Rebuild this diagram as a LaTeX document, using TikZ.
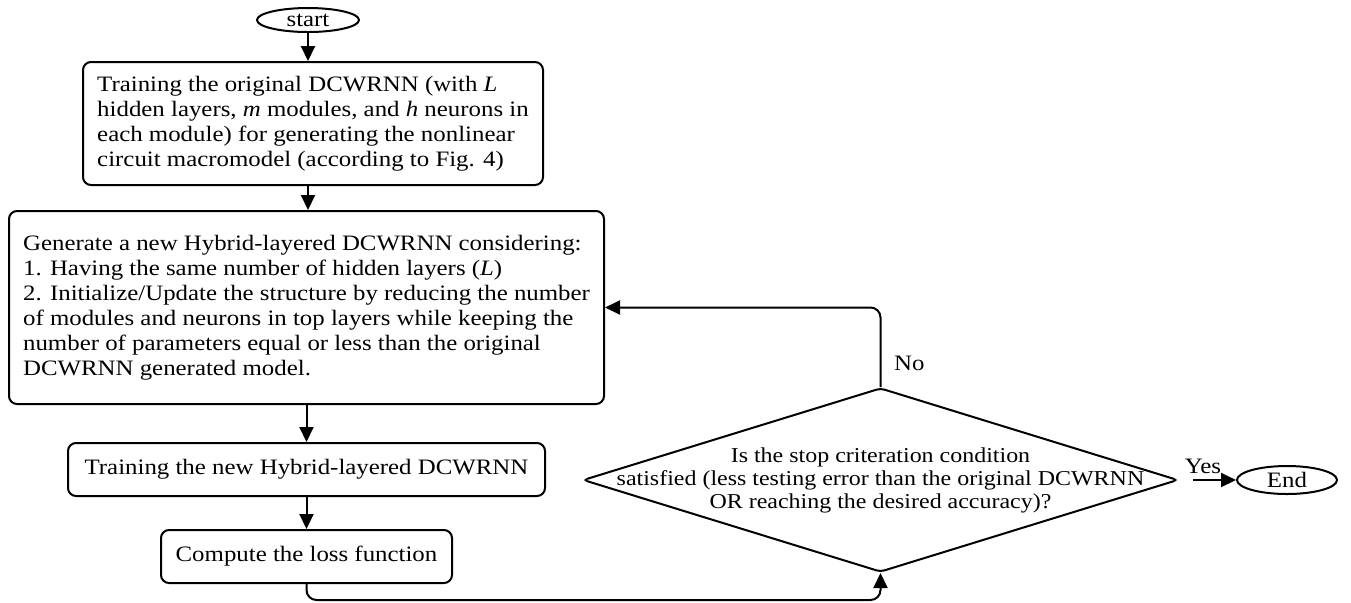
\documentclass[tikz,border=0pt]{standalone}
\usepackage{fontspec}
\setmainfont{Liberation Serif}[FakeStretch=1.13]
\usetikzlibrary{arrows.meta,shapes.geometric,positioning}

\begin{document}
\begin{tikzpicture}[x=0.5pt,y=-0.5pt,line width=1pt,>={Triangle[length=7.5pt,width=7pt]},
  font=\fontsize{11}{12.5}\selectfont,
  procbox/.style={draw,rounded corners=4pt,align=left,inner sep=0pt},
  terminal/.style={draw,ellipse,inner sep=0pt},
  decision/.style={draw,diamond,inner sep=0pt,rounded corners=2pt}]
\useasboundingbox (0,0) rectangle (1351,602);
\node[terminal,minimum width=51pt,minimum height=12pt] (start) at (308,20) {start};
\node[procbox,minimum width=230pt,minimum height=61.5pt] (train) at (313,123.5)
  {Training the original DCWRNN (with \textit{L}\\
   hidden layers, \textit{m} modules, and \textit{h} neurons in\\
   each module) for generating the nonlinear\\
   circuit macromodel (according to Fig. 4)};
\node[procbox,minimum width=297.5pt,minimum height=96.5pt] (hybrid) at (306.5,307.5)
  {Generate a new Hybrid-layered DCWRNN considering:\\
   1. Having the same number of hidden layers (\textit{L})\\
   2. Initialize/Update the structure by reducing the number\\
   of modules and neurons in top layers while keeping the\\
   number of parameters equal or less than the original\\
   DCWRNN generated model.};
\node[procbox,minimum width=238.5pt,minimum height=26.5pt] (trainnew) at (306.5,469.5)
  {Training the new Hybrid-layered DCWRNN};
\node[procbox,minimum width=145.5pt,minimum height=26.5pt] (loss) at (306.5,556.5)
  {Compute the loss function};
\node[decision,minimum width=297.5pt,minimum height=92pt,
  label={[name=condtext,align=center,font=\fontsize{10.6}{11.5}\selectfont]center:Is the stop criteration condition\\
   satisfied (less testing error than the original DCWRNN\\
   OR reaching the desired accuracy)?}] (cond) at (880.5,480) {};
\node[terminal,minimum width=50pt,minimum height=14pt] (done) at (1287,480) {End};

\draw[->] (start) -- (start |- train.north);
\draw[->] (start |- train.south) -- (start |- hybrid.north);
\draw[->] (hybrid.south) -- (trainnew.north);
\draw[->] (trainnew.south) -- (loss.north);
\draw[->,rounded corners=5pt] (loss.south) -- ++(0,16) -| (cond.south);
\draw[->,rounded corners=5pt] (cond.north) |- node[pos=0.15,right=3pt]{No} (hybrid.east);
\draw[->,shorten <=7pt] (cond.east) -- node[above,pos=0.42,inner sep=2.5pt]{Yes} (done.west);
\end{tikzpicture}
\end{document}
